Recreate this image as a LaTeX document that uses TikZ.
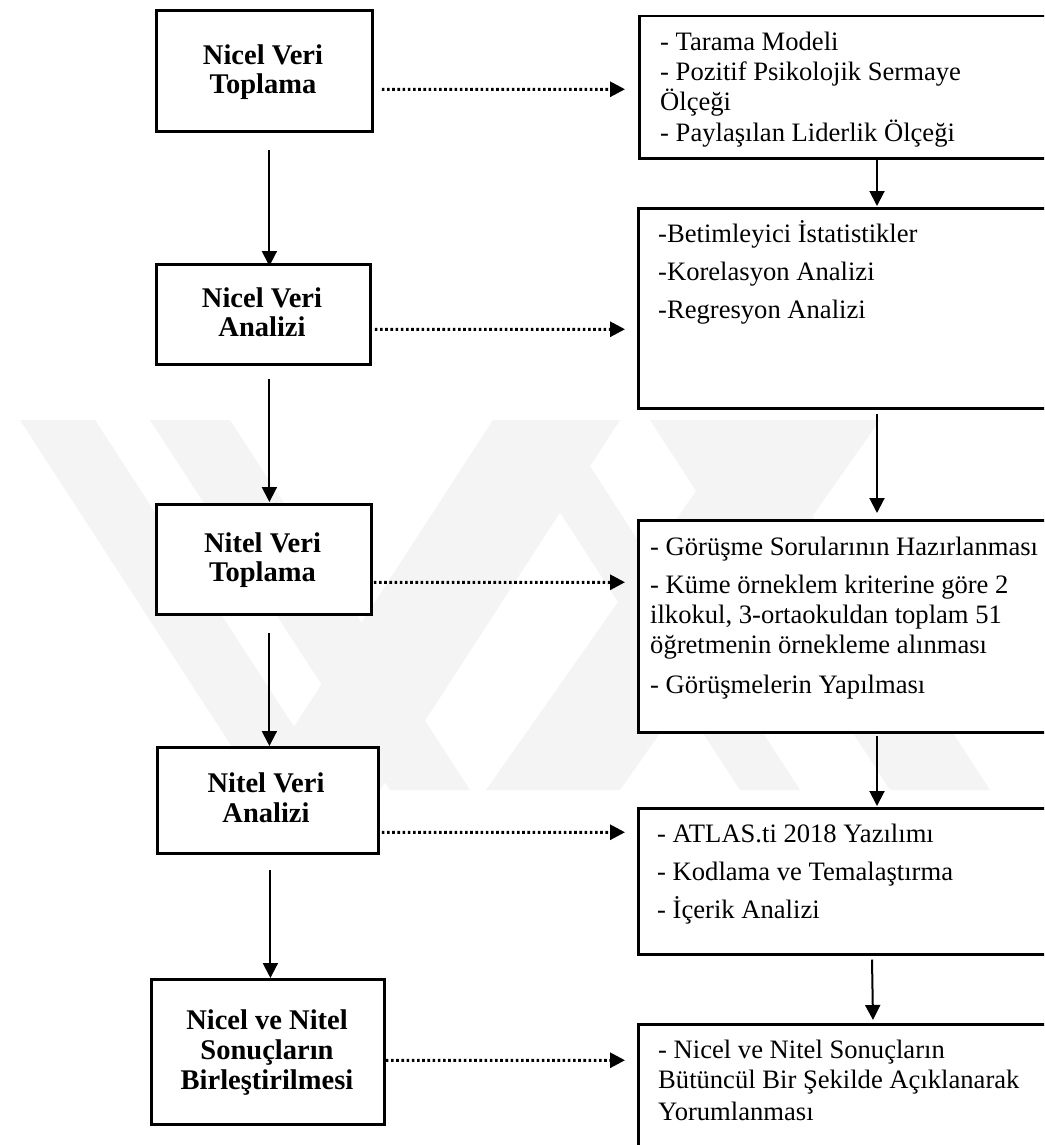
\documentclass[tikz,border=0pt]{standalone}
\usepackage{fontspec}
\setmainfont{Liberation Serif}
\usetikzlibrary{arrows.meta,calc}
\definecolor{wmgray}{gray}{0.955}
\tikzset{
  lbox/.style={draw=black, line width=2.8pt, fill=white, rectangle, inner sep=0pt, anchor=north west},
  rbox/.style={draw=black, line width=2.5pt, fill=white, rectangle, inner sep=0pt, anchor=north west},
  arr/.style={line width=2pt, -{Triangle[length=15pt,width=15pt]}},
  dotarr/.style={line width=3pt, dash pattern=on 2.6pt off 2.6pt, -{Triangle[length=15pt,width=15pt]}},
  lt/.style={anchor=base, inner sep=0pt, font=\bfseries\fontsize{28.5}{30}\selectfont},
  rt/.style={anchor=base west, inner sep=0pt, font=\fontsize{26.6}{30}\selectfont},
  wm/.style={fill=wmgray, draw=none}
}
\begin{document}
\begin{tikzpicture}[x=1pt,y=-1pt]
\useasboundingbox (0,0) rectangle (1044,1145);
\clip (0,0) rectangle (1044,1145);
\fill[white] (0,0) rectangle (1044,1145);
% watermark stripes
\fill[wm] (20,420) -- (95,420) -- (335,790) -- (260,790) -- cycle;
\fill[wm] (150,420) -- (230,420) -- (470,790) -- (390,790) -- cycle;
\fill[wm] (493,420) -- (620,420) -- (380,790) -- (253,790) -- cycle;
\fill[wm] (746,420) -- (880,420) -- (620,790) -- (486,790) -- cycle;
\fill[wm] (500,420) -- (560,420) -- (800,790) -- (740,790) -- cycle;
\fill[wm] (650,420) -- (750,420) -- (990,790) -- (890,790) -- cycle;

% left boxes
\node[lbox, minimum width=216pt, minimum height=121pt] (b1) at (155,9) {};
\node[lbox, minimum width=214pt, minimum height=100pt] (b2) at (155,263) {};
\node[lbox, minimum width=215pt, minimum height=110pt] (b3) at (155,503) {};
\node[lbox, minimum width=221pt, minimum height=106pt] (b4) at (156,746) {};
\node[lbox, minimum width=233pt, minimum height=145pt] (b5) at (150,978) {};

% right boxes
\node[rbox, minimum width=412pt, minimum height=142pt] (r1) at (638,15) {};
\node[rbox, minimum width=413pt, minimum height=200pt] (r2) at (637,207) {};
\node[rbox, minimum width=413pt, minimum height=212pt] (r3) at (637,519) {};
\node[rbox, minimum width=413pt, minimum height=146pt] (r4) at (637,807) {};
\node[rbox, minimum width=413pt, minimum height=137pt] (r5) at (637,1023) {};

% left texts
\node[lt] (b1a) at (263,65) {Nicel Veri};
\node[lt] (b1b) at (263,94) {Toplama};
\node[lt] (b2a) at (262,307) {Nicel Veri};
\node[lt] (b2b) at (262,336) {Analizi};
\node[lt] (b3a) at (262.5,552) {Nitel Veri};
\node[lt] (b3b) at (262.5,581) {Toplama};
\node[lt] (b4a) at (266,792) {Nitel Veri};
\node[lt] (b4b) at (266,822) {Analizi};
\node[lt] (b5a) at (267,1029) {Nicel ve Nitel};
\node[lt] (b5b) at (267,1059) {Sonuçların};
\node[lt] (b5c) at (267,1089) {Birleştirilmesi};

% right texts
\node[rt] (r1a) at (660,51) {- Tarama Modeli};
\node[rt] (r1b) at (660,81) {- Pozitif Psikolojik Sermaye};
\node[rt] (r1c) at (660,111) {Ölçeği};
\node[rt] (r1d) at (660,141) {- Paylaşılan Liderlik Ölçeği};

\node[rt] (r2a) at (658,242) {-Betimleyici İstatistikler};
\node[rt] (r2b) at (658,280) {-Korelasyon Analizi};
\node[rt] (r2c) at (658,318) {-Regresyon Analizi};

\node[rt] (r3a) at (650,555) {- Görüşme Sorularının Hazırlanması};
\node[rt] (r3b) at (650,593) {- Küme örneklem kriterine göre 2};
\node[rt] (r3c) at (650,623) {ilkokul, 3-ortaokuldan toplam 51};
\node[rt] (r3d) at (650,653) {öğretmenin örnekleme alınması};
\node[rt] (r3e) at (650,693) {- Görüşmelerin Yapılması};

\node[rt] (r4a) at (657,842) {- ATLAS.ti 2018 Yazılımı};
\node[rt] (r4b) at (657,880) {- Kodlama ve Temalaştırma};
\node[rt] (r4c) at (657,918) {- İçerik Analizi};

\node[rt] (r5a) at (658,1058) {- Nicel ve Nitel Sonuçların};
\node[rt] (r5b) at (658,1088) {Bütüncül Bir Şekilde Açıklanarak};
\node[rt] (r5c) at (658,1120) {Yorumlanması};

% left vertical arrows
\draw[arr] ($(b1.south)+(5,17)$) -- ($(b2.north)+(6,3)$);
\draw[arr] ($(b2.south)+(6,13)$) -- ($(b3.north)+(5.5,-1)$);
\draw[arr] ($(b3.south)+(5.5,17)$) -- ($(b4.north)+(1.5,0)$);
\draw[arr] ($(b4.south)+(2.5,15)$) -- ($(b5.north)+(2.5,0)$);

% right vertical arrows
\draw[arr] ($(r1.south west)+(239,0)$) -- ($(r2.north west)+(240,-1)$);
\draw[arr] ($(r2.south west)+(240,4)$) -- ($(r3.north west)+(240,-6)$);
\draw[arr] ($(r3.south west)+(240,2)$) -- ($(r4.north west)+(240,-1)$);
\draw[arr] ($(r4.south west)+(235,4)$) -- ($(r5.north west)+(236,-3)$);

% dotted horizontal arrows
\draw[dotarr] ($(b1.east)+(8,18.5)$) -- ($(r1.west)+(-13,2)$);
\draw[dotarr] ($(b2.east)+(3,15)$) -- ($(r2.west)+(-12,21)$);
\draw[dotarr] ($(b3.east)+(1,23)$) -- ($(r3.west)+(-12,-44)$);
\draw[dotarr] ($(b4.east)+(2,32)$) -- ($(r4.west)+(-12,-49)$);
\draw[dotarr] ($(b5.east)+(0,8.5)$) -- ($(r5.west)+(-12,-32.5)$);
\end{tikzpicture}
\end{document}
